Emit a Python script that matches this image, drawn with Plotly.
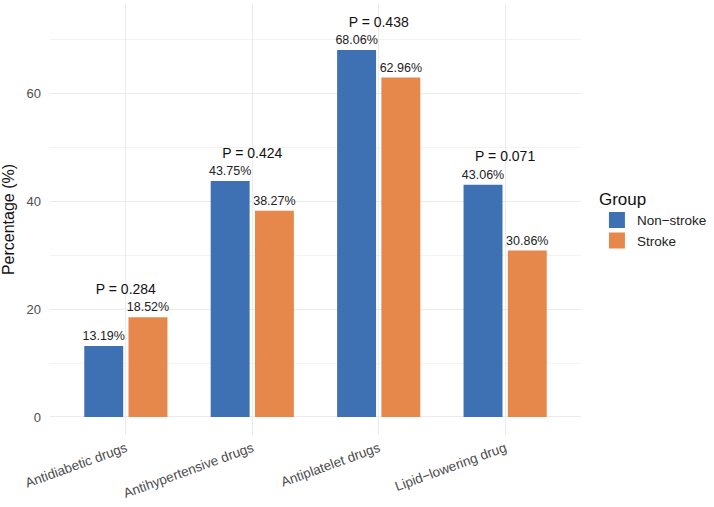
import plotly.graph_objects as go

categories = ["Antidiabetic drugs", "Antihypertensive drugs", "Antiplatelet drugs", "Lipid\u2212lowering drug"]
non_stroke = [13.19, 43.75, 68.06, 43.06]
stroke = [18.52, 38.27, 62.96, 30.86]
p_labels = ["P = 0.284", "P = 0.424", "P = 0.438", "P = 0.071"]
groups = ["Non\u2212stroke", "Stroke"]
colors = ["#3E71B4", "#E6884B"]
p_offset = 5

FONT = "Liberation Sans, Arial, sans-serif"

fig = go.Figure()
for name, vals, col in zip(groups, [non_stroke, stroke], colors):
    fig.add_trace(go.Bar(
        x=categories, y=vals, name=name, marker=dict(color=col, line=dict(width=0)),
        text=[f"{v:.2f}%" for v in vals], textposition="outside",
        textfont=dict(family=FONT, size=12.5, color="#222222"),
        constraintext="none", textangle=0,
        cliponaxis=False, showlegend=False,
    ))
    fig.add_trace(go.Scatter(
        x=[None], y=[None], mode="markers", name=name,
        marker=dict(symbol="square", size=20, color=col),
    ))

p_y = [max(a, b) + p_offset for a, b in zip(non_stroke, stroke)]
fig.add_trace(go.Scatter(
    x=categories, y=p_y, mode="text", text=p_labels, textposition="middle center",
    textfont=dict(family=FONT, size=14, color="#111111"), showlegend=False,
    cliponaxis=False,
))

fig.update_layout(
    width=714, height=507,
    margin=dict(l=50, r=133, t=4, b=72, autoexpand=False),
    paper_bgcolor="white", plot_bgcolor="white",
    barmode="group", bargap=0.3, bargroupgap=0.12,
    font=dict(family=FONT),
    legend=dict(
        title=dict(text="Group", font=dict(size=17, color="#111111")),
        font=dict(size=13.5, color="#222222"),
        x=1.03, xanchor="left", y=0.5, yanchor="middle",
        itemsizing="trace", itemwidth=30, tracegroupgap=0,
    ),
    xaxis=dict(
        range=[-0.6, 3.6], showgrid=True, gridcolor="#EBEBEB", gridwidth=1.2,
        tickangle=-20, tickfont=dict(size=13.5, color="#4D4D4D"),
        showline=False, zeroline=False, ticks="", ticklabelstandoff=2,
    ),
    yaxis=dict(
        range=[-3.34, 76.6], tickvals=[0, 20, 40, 60], showgrid=True,
        gridcolor="#EBEBEB", gridwidth=1.2, zeroline=False, showline=False,
        tickfont=dict(size=13, color="#4D4D4D"), ticks="", ticklabelstandoff=8,
        title=dict(text="Percentage (%)", font=dict(size=16, color="#111111"), standoff=12),
        minor=dict(tickvals=[10, 30, 50, 70], showgrid=True, gridcolor="#F3F3F3", gridwidth=0.6),
    ),
)

fig.write_html("out.html")
